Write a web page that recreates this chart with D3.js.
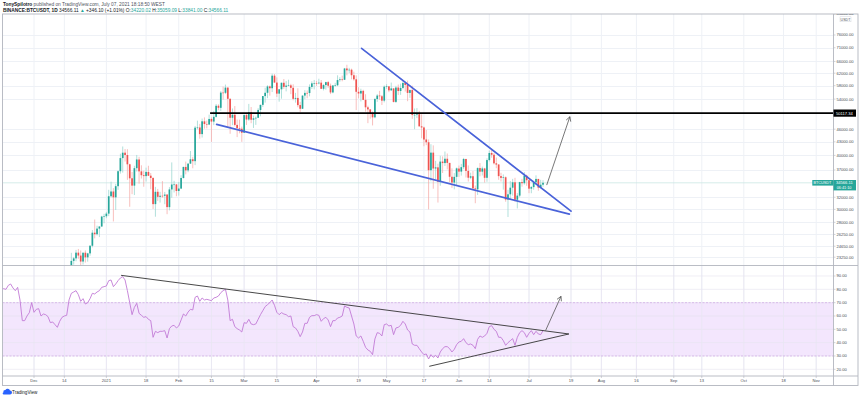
<!DOCTYPE html>
<html><head><meta charset="utf-8">
<script src="https://cdn.jsdelivr.net/npm/d3@7/dist/d3.min.js"></script>
<style>
html,body{margin:0;padding:0;background:#fff;}
svg{display:block;font-family:"Liberation Sans",Arial,sans-serif;}
</style></head><body>
<svg id="c" width="860" height="398"></svg>
<script>
// ---------- DATA ----------
const candleStart = "2020-12-16";
const opens = [19426,21335,22797,23107,23821,23455,22719,23810,23232,23729,24712,26493,26281,27079,27385,28875,
28923,29331,32176,33000,31989,33950,36769,39432,40586,40088,38150,35410,34049,37372,39141,36737,35994,35825,36622,35901,35468,30851,32950,32078,32259,32254,32464,30362,33368,34246,34262,
33092,33518,35466,37619,36936,38289,39181,38795,46374,46420,44807,47968,47298,47156,48580,47911,49133,52117,51552,55906,55841,57412,54087,48891,49677,47063,46276,46104,
45134,49595,48436,50349,48374,48747,48882,50959,52375,54874,55851,57773,57222,61188,58976,55605,56901,58913,57642,58030,58100,57352,54083,54342,52304,51293,55026,55817,55782,57628,58731,
58736,58720,58950,57051,58203,59116,57992,55953,58077,58143,59770,59991,59860,63576,62959,63159,61334,60006,56150,55634,56425,53787,51691,51111,50047,49005,54021,55034,54824,53556,
57697,57797,56578,57169,53205,57436,56394,57315,58866,58240,55816,56670,49537,49672,49842,46705,46425,43538,42910,36966,40596,37304,37532,34771,38705,38402,39295,38436,35697,34616,35678,
37293,36694,37568,39246,36829,35516,35797,33556,33380,37389,36677,37313,35498,39021,40516,40143,38349,38099,35820,35483,35601,31614,32510,33675,34663,31576,32283,34702,34494,35911,
35045,33502,33786,34669,35288,33690,34220.02];
const highs = [21560,23800,23285,24171,24295,24102,23837,24100,23794,24789,26867,28422,27500,27410,28996,29300,
29600,33300,34778,33600,34360,36939,40365,41950,41380,41350,38264,36628,37850,40100,39700,37950,36852,37469,37850,36415,35600,33826,33456,32944,34875,32921,32557,33783,38531,34933,34342,
34717,35984,37662,38708,38310,40955,39700,46794,48142,47310,48678,48985,48150,49707,49010,50689,52618,52530,56368,57700,58352,57508,54183,51374,52041,48424,48395,46638,
49790,50200,52640,51773,49448,49200,51450,52402,54895,57387,58150,58058,61844,61724,60633,56938,58982,60100,59450,59880,58589,58430,55830,57200,53230,55073,56640,56559,58405,59368,59800,
59490,60200,59791,58500,59251,59495,58655,58153,58894,61300,60700,61199,63777,64854,63800,63520,62506,61288,57526,57076,56757,55410,52131,51166,50567,54357,55460,56428,55196,58075,
58458,57911,58973,57200,57963,58360,58650,59500,59300,59594,56862,58000,51367,51483,50700,49800,46643,45799,43546,42451,42200,38860,38270,39920,39791,40841,40411,38437,37338,36400,37499,
37894,38225,39476,39289,37925,36480,36800,34068,37534,38400,37681,37436,39380,41064,41330,40528,39559,38202,36457,36137,35750,33298,34881,35298,35500,32730,34749,35297,36600,36100,
35057,33977,34945,35967,35293,35118,35059.09];
const lows = [19278,21230,22350,22750,23060,21815,22353,22600,22703,23433,24500,25700,26101,25880,27320,27850,
28624,28946,31963,28130,29900,33288,36300,36500,38720,35111,30420,32531,32380,36701,34408,35357,33850,34800,35844,33400,30071,28850,31390,31106,31910,30837,29241,29842,31915,32825,32171,
32296,33418,35362,36161,36570,38215,37351,37988,45979,43727,43994,46125,46202,47014,42988,47003,48947,50902,50710,53863,55477,46286,44892,47003,46674,44106,45000,43000,
45116,47047,48100,47500,46300,47070,48882,49274,51789,53005,54269,55013,56078,58966,54600,53271,54120,57023,56270,57820,55450,53650,53000,51700,50427,51225,53967,54242,54800,57000,56873,
57935,58428,56958,56560,56801,57350,55473,55700,57691,57875,59232,59370,59800,61301,62020,60000,59580,50931,54221,53329,53695,50500,47500,48657,46930,48753,53222,53813,52330,53069,
57052,56035,56479,53046,52900,55200,55241,56900,56235,53400,54370,48600,46000,48800,46650,43825,42001,42250,30000,34850,33488,35200,31111,34031,36419,37800,37134,34685,33632,33379,34153,
35667,35920,37170,35555,34800,35258,33300,31000,32396,35784,35937,34600,34757,38730,39506,38116,37365,35129,34803,33336,31251,28805,31683,32286,31275,30151,32000,33862,34225,34017,
32711,32699,33316,34357,33125,33532,33841.00];
const closes = [21335,22797,23107,23821,23455,22719,23810,23232,23729,24712,26493,26281,27079,27385,28875,28923,
29331,32178,33000,31988,33950,36769,39432,40582,40088,38150,35404,34051,37371,39144,36742,35994,35828,36631,35891,35468,30850,32945,32078,32260,32254,32467,30366,33364,34252,34262,33092,
33526,35466,37618,36936,38290,39186,38795,46374,46420,44807,47969,47287,47153,48577,47911,49133,52119,51553,55906,55842,57408,54087,48892,49677,47063,46277,46106,45135,
49587,48440,50349,48374,48751,48882,50971,52375,54884,55851,57773,57221,61188,58968,55605,56900,58912,57648,58030,58102,57351,54083,54340,52303,51293,55025,55817,55777,57628,58731,58737,
58720,58950,57051,58203,59117,57991,55953,58077,58143,59770,60000,59860,63576,62959,63160,61334,60007,56150,55633,56425,53787,51690,51125,50047,49004,54021,55034,54824,53555,57697,
57797,56578,57169,53200,57436,56393,57314,58862,58240,55816,56670,49631,49671,49841,46708,46426,43537,42910,36964,40597,37304,37536,34770,38705,38402,39295,38436,35697,34616,35678,37333,
36693,37569,39246,36830,35514,35796,33552,33380,37388,36676,37313,35497,39020,40516,40144,38349,38092,35819,35483,35600,31608,32509,33678,34663,31585,32283,34700,34494,35911,35045,
33504,33786,34669,35287,33690,34220,34566.11];

const rsiStart = "2020-11-17";
const rsiValues = [80,80.5,80,83,84,81,79,81.5,72,56.5,56.5,60,62.5,70,
62.75,65,65.5,60,61.5,61,59.5,55,55.5,53.5,51.5,56,59,60,60.5,72,
77,78,79,76,71,73,69,70,73,77,76.5,78,79,81.5,82,
82.5,86.5,87,82,84,86.5,88.5,89.5,87,79,70,61,66.5,69.5,62,60.5,59,59.5,57.5,56.5,44,48.5,47.5,48.5,48.5,49,43.5,50.5,52.5,53,51,
52.5,57,61.5,60,63,65,64.5,74,75,71,73.5,72,72.5,72,71.5,73.5,74,75,77.5,79,80,72,56.5,57.5,52,50.5,49.5,48,
55,54.5,57.5,54,53.5,54,57.5,61,64,67,68.5,70,72,68,62.75,61,62.5,61.5,61,59.5,60,52,51,48.5,44.5,48,54.5,54.5,59,60.25,60.25,
61,60.5,56,58,59,57,52,56.5,56.5,58.5,59,60,67.5,66.5,66,60,54,45,43.5,45,41,36.5,34.5,33.5,31,42.75,47.5,47,45,53.5,
54,52.5,53,46,51,51.5,53,56,54,49.5,48,39,38,38,35.5,33,31,31.5,27.75,31,29,30.5,28.5,33,35.5,37,37,35.5,33,35,38.5,
40.5,41,43,40,38.5,39,38,35.5,42.5,45,44,45,47,52,52.75,50,48.5,44,44,41.5,38,40,41.5,43,38,44,47.5,49,47.5,44,
47,49,46,48.5,46.5,46,49];

const priceTicks = [85000,76000,71000,66000,62000,58000,54000,46000,43000,40000,37000,32000,30000,28000,26250,24650,23250];
const rsiTicks = [20,30,40,50,60,70,80,90];
const timeTickDates = ["2020-12-01","2020-12-14","2021-01-01","2021-01-18","2021-02-01","2021-02-15","2021-03-01","2021-03-15","2021-04-01","2021-04-19","2021-05-01","2021-05-17","2021-06-01","2021-06-14","2021-07-01","2021-07-19","2021-08-01","2021-08-16","2021-09-01","2021-09-13","2021-10-01","2021-10-18","2021-11-01"];
const timeTickLabels = ["Dec","14","2021","18","Feb","15","Mar","15","Apr","19","May","17","Jun","14","Jul","19","Aug","16","Sep","13","Oct","18","Nov"];

const lastPrice = 34566.11;
const resistanceLevel = 50117.34;
const resistanceStart = "2021-02-14T10:00";
// drawings (date, value)
const wedgeUpper = [["2021-04-20T07:00",70797],["2021-07-19T00:00",29724]];
const wedgeLower = [["2021-02-17T05:00",47204],["2021-07-18T07:00",29250]];
const priceArrow = [["2021-07-08T14:00",34149],["2021-07-18T12:00",49160]];
const rsiUpper = [["2021-01-07T07:00",90.5],["2021-07-18T02:00",46.5]];
const rsiLower = [["2021-05-19T07:00",22.25],["2021-07-18T02:00",46.5]];
const rsiArrow = [["2021-07-08T02:00",49],["2021-07-14T17:00",74.75]];

// ---------- LAYOUT ----------
const svg = d3.select("#c");
const L = 2.5, R = 833.5, T = 14, PB = 265.5, RB = 376, AB = 385.5, FR = 858;
const pUTC = d3.utcParse("%Y-%m-%d"), pT = d3.utcParse("%Y-%m-%dT%H:%M");
const x = d3.scaleUtc().domain([pUTC("2020-12-01"), pUTC("2021-07-01")]).range([34, 529]);
const y = d3.scaleLog().domain([23250, 76000]).range([257.2, 35]);
const yr = d3.scaleLinear().domain([20, 90]).range([369.3, 276]);
const green = "#26a69a", red = "#ef5350", gridC = "#eef1f6", frameC = "#b2b5be", textC = "#4b4e57";

const defs = svg.append("defs");
defs.append("clipPath").attr("id","cp").append("rect").attr("x",L).attr("y",T).attr("width",R-L).attr("height",PB-T);
defs.append("clipPath").attr("id","cr").append("rect").attr("x",L).attr("y",PB).attr("width",R-L).attr("height",RB-PB);
defs.append("clipPath").attr("id","ca").append("rect").attr("x",R).attr("y",T).attr("width",FR-R).attr("height",PB-T);

// ---------- header ----------
const hdr = svg.append("g").attr("font-size", 4.8).attr("fill", "#131722");
const h1 = hdr.append("text").attr("x", 3).attr("y", 5.8);
h1.append("tspan").attr("font-weight","bold").text("TonySpilotro");
h1.append("tspan").attr("fill","#50535e").text(" published on TradingView.com, July 07, 2021 18:18:50 WEST");
const h2 = hdr.append("text").attr("x", 3).attr("y", 11.8);
h2.append("tspan").attr("font-weight","bold").text("BINANCE:BTCUSDT, 1D ");
h2.append("tspan").text(d3.format(".2f")(lastPrice) + " ");
h2.append("tspan").attr("fill", green).text("▲");
h2.append("tspan").text(" +346.10 (+1.01%) O:");
h2.append("tspan").attr("fill", green).text("34220.02");
h2.append("tspan").text(" H:");
h2.append("tspan").attr("fill", green).text("35059.09");
h2.append("tspan").text(" L:");
h2.append("tspan").attr("fill", green).text("33841.00");
h2.append("tspan").text(" C:");
h2.append("tspan").attr("fill", green).text("34566.11");

// ---------- grid ----------
const grid = svg.append("g");
const tdates = timeTickDates.map(pUTC);
grid.selectAll("line.v").data(tdates).join("line")
  .attr("x1", d => x(d)).attr("x2", d => x(d)).attr("y1", T).attr("y2", RB)
  .attr("stroke", gridC).attr("stroke-width", 1);
grid.selectAll("line.hp").data(priceTicks.slice(1)).join("line")
  .attr("x1", L).attr("x2", R).attr("y1", d => Math.round(y(d))+0.5).attr("y2", d => Math.round(y(d))+0.5)
  .attr("stroke", gridC);

// RSI band
const rsiG = svg.append("g").attr("clip-path","url(#cr)");
rsiG.append("rect").attr("x", L).attr("width", R-L).attr("y", yr(70)).attr("height", yr(30)-yr(70)).attr("fill", "#f3e6fd");
rsiG.selectAll("line.hr").data(rsiTicks).join("line")
  .attr("x1", L).attr("x2", R).attr("y1", d => yr(d)).attr("y2", d => yr(d))
  .attr("stroke", "#e6e3ef").attr("stroke-width", 0.6);
rsiG.selectAll("line.vr").data(tdates).join("line")
  .attr("x1", d => x(d)).attr("x2", d => x(d)).attr("y1", PB).attr("y2", RB)
  .attr("stroke", "#e8e6f2").attr("stroke-width", 0.8);
rsiG.selectAll("line.band").data([70,30]).join("line")
  .attr("x1", L).attr("x2", R).attr("y1", d => yr(d)).attr("y2", d => yr(d))
  .attr("stroke", "#cfa8e6").attr("stroke-width", 0.7).attr("stroke-dasharray", "2,1.5");

// RSI line
const rsiDates = rsiValues.map((v,i) => d3.utcDay.offset(pUTC(rsiStart), i));
rsiG.append("path").datum(rsiValues)
  .attr("d", d3.line().x((v,i) => x(rsiDates[i])).y(v => yr(v)))
  .attr("fill","none").attr("stroke","#c27bd6").attr("stroke-width",0.9);

// ---------- candles ----------
const cg = svg.append("g").attr("clip-path","url(#cp)");
// last price line
cg.append("line").attr("x1", L).attr("x2", R).attr("y1", y(lastPrice)).attr("y2", y(lastPrice))
  .attr("stroke", "#cbe7e3").attr("stroke-width", 0.8);
const candles = closes.map((c,i) => ({d: d3.utcDay.offset(pUTC(candleStart), i), o: opens[i], h: highs[i], l: lows[i], c}));
cg.selectAll("line.w").data(candles).join("line")
  .attr("x1", d => x(d.d)).attr("x2", d => x(d.d)).attr("y1", d => y(d.h)).attr("y2", d => y(d.l))
  .attr("stroke", d => d.c >= d.o ? "#8fd2cb" : "#f5a3a1").attr("stroke-width", 0.7);
cg.selectAll("rect.b").data(candles).join("rect")
  .attr("x", d => x(d.d) - 0.85).attr("width", 1.7)
  .attr("y", d => y(Math.max(d.o,d.c))).attr("height", d => Math.max(0.6, Math.abs(y(d.o)-y(d.c))))
  .attr("fill", d => d.c >= d.o ? green : red);

// ---------- drawings on price ----------
const pt = p => [x(pT(p[0])), y(p[1])];
const ptr = p => [x(pT(p[0])), yr(p[1])];
cg.append("line").attr("x1", x(pT(resistanceStart))).attr("x2", R).attr("y1", y(resistanceLevel)).attr("y2", y(resistanceLevel))
  .attr("stroke", "#000").attr("stroke-width", 1.8);
[wedgeUpper, wedgeLower].forEach(s => {
  const a = pt(s[0]), b = pt(s[1]);
  cg.append("line").attr("x1",a[0]).attr("y1",a[1]).attr("x2",b[0]).attr("y2",b[1])
    .attr("stroke","#4a63d9").attr("stroke-width",1.7).attr("stroke-linecap","round");
});
function arrow(g, a, b, color, w) {
  g.append("line").attr("x1",a[0]).attr("y1",a[1]).attr("x2",b[0]).attr("y2",b[1])
    .attr("stroke",color).attr("stroke-width",w);
  const ang = Math.atan2(b[1]-a[1], b[0]-a[0]), len = 5, sp = 0.5;
  g.append("path").attr("d",
    `M${b[0]-len*Math.cos(ang-sp)},${b[1]-len*Math.sin(ang-sp)}L${b[0]},${b[1]}L${b[0]-len*Math.cos(ang+sp)},${b[1]-len*Math.sin(ang+sp)}`)
    .attr("fill","none").attr("stroke",color).attr("stroke-width",w);
}
arrow(cg, pt(priceArrow[0]), pt(priceArrow[1]), "#555", 0.8);

// RSI drawings
[rsiUpper, rsiLower].forEach(s => {
  const a = ptr(s[0]), b = ptr(s[1]);
  rsiG.append("line").attr("x1",a[0]).attr("y1",a[1]).attr("x2",b[0]).attr("y2",b[1])
    .attr("stroke","#333").attr("stroke-width",0.9);
});
arrow(rsiG, ptr(rsiArrow[0]), ptr(rsiArrow[1]), "#555", 0.8);

// ---------- frame ----------
const fr = svg.append("g").attr("fill","none").attr("stroke", frameC).attr("stroke-width", 0.9);
fr.append("rect").attr("x", L).attr("y", T).attr("width", FR-L).attr("height", AB-T);
fr.append("line").attr("x1", L).attr("x2", FR).attr("y1", PB).attr("y2", PB);
fr.append("line").attr("x1", L).attr("x2", FR).attr("y1", RB).attr("y2", RB);
fr.append("line").attr("x1", R).attr("x2", R).attr("y1", T).attr("y2", AB);

// ---------- price axis ----------
const ax = svg.append("g").attr("font-size", 4.1).attr("fill", textC).attr("clip-path","url(#ca)");
ax.selectAll("line.t").data(priceTicks).join("line")
  .attr("x1", R).attr("x2", R+2).attr("y1", d => y(d)).attr("y2", d => y(d)).attr("stroke", frameC).attr("stroke-width",0.6);
ax.selectAll("text.t").data(priceTicks).join("text")
  .attr("x", R+3).attr("y", d => y(d)).attr("dy","0.35em").text(d => d3.format(".2f")(d));
// USDT tag
svg.append("rect").attr("x", 840).attr("y", 16.8).attr("width", 11).attr("height", 5)
  .attr("fill","#fff").attr("stroke","#c9ccd4").attr("stroke-width",0.4);
svg.append("text").attr("x", 845.5).attr("y", 19.4).attr("dy","0.35em").attr("text-anchor","middle")
  .attr("font-size",3.6).attr("fill",textC).text("USDT");
// resistance label
svg.append("rect").attr("x", R).attr("y", y(resistanceLevel)-3.6).attr("width", 22.5).attr("height", 7.2).attr("fill","#000");
svg.append("text").attr("x", R+2.5).attr("y", y(resistanceLevel)).attr("dy","0.35em")
  .attr("font-size",4.1).attr("fill","#fff").text(d3.format(".2f")(resistanceLevel));
// last price labels
svg.append("rect").attr("x", 812.3).attr("y", y(lastPrice)-2.8).attr("width", R-812.3).attr("height", 5.6).attr("fill", green);
svg.append("text").attr("x", 813.5).attr("y", y(lastPrice)).attr("dy","0.35em")
  .attr("font-size",3.8).attr("fill","#fff").text("BTCUSDT");
svg.append("rect").attr("x", R).attr("y", y(lastPrice)-2.8).attr("width", 22.5).attr("height", 10.4).attr("fill", green);
svg.append("text").attr("x", R+2.5).attr("y", y(lastPrice)).attr("dy","0.35em")
  .attr("font-size",4.1).attr("fill","#fff").text(d3.format(".2f")(lastPrice));
svg.append("text").attr("x", R+3.2).attr("y", y(lastPrice)+4.9).attr("dy","0.35em")
  .attr("font-size",3.8).attr("fill","#fff").text("06:41:10");

// ---------- RSI axis ----------
const rax = svg.append("g").attr("font-size", 4.1).attr("fill", textC);
rax.selectAll("line").data(rsiTicks).join("line")
  .attr("x1", R).attr("x2", R+2).attr("y1", d => yr(d)).attr("y2", d => yr(d)).attr("stroke", frameC).attr("stroke-width",0.6);
rax.selectAll("text").data(rsiTicks).join("text")
  .attr("x", R+3).attr("y", d => yr(d)).attr("dy","0.35em").text(d => d3.format(".2f")(d));

// ---------- time axis ----------
const tax = svg.append("g").attr("font-size", 4.1).attr("fill", textC);
tax.selectAll("line").data(tdates).join("line")
  .attr("x1", d => x(d)).attr("x2", d => x(d)).attr("y1", RB).attr("y2", RB+2).attr("stroke", frameC).attr("stroke-width",0.6);
tax.selectAll("text").data(tdates).join("text")
  .attr("x", d => x(d)).attr("y", 380.8).attr("dy","0.35em").attr("text-anchor","middle")
  .text((d,i) => timeTickLabels[i]);

// ---------- logo ----------
const lg = svg.append("g");
lg.append("path").attr("d","M3.5,394.5 h6.5 a2,2 0 0 0 0,-4 a2.6,2.6 0 0 0 -4.6,-0.6 a1.9,1.9 0 0 0 -1.9,2.3 a1.2,1.2 0 0 0 0,2.3 z")
  .attr("fill","#2962ff");
lg.append("text").attr("x", 12).attr("y", 392.6).attr("dy","0.35em").attr("font-size",4.6).attr("fill","#131722").text("TradingView");
</script>
</body></html>
